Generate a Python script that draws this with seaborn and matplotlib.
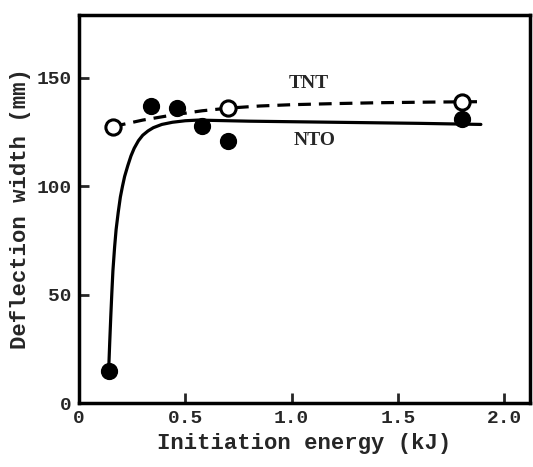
import matplotlib
matplotlib.use("Agg")
import matplotlib.pyplot as plt
import seaborn as sns
import pandas as pd

# Measured points
nto_x = [0.14, 0.34, 0.46, 0.58, 0.70, 1.80]
nto_y = [15, 137, 136, 128, 121, 131]
tnt_x = [0.16, 0.70, 1.80]
tnt_y = [127.5, 136, 139]

# Fitted curves
nto_curve_x = [0.14, 0.145, 0.15, 0.155, 0.16, 0.168, 0.175, 0.185, 0.195, 0.205, 0.215,
               0.23, 0.245, 0.26, 0.28, 0.30, 0.325, 0.35, 0.39, 0.44, 0.50, 0.56,
               0.80, 1.20, 1.60, 1.89]
nto_curve_y = [15, 28, 40, 51, 61, 72, 80, 88, 95, 100, 104.5,
               109.5, 114, 117.5, 121, 123.5, 125.5, 127, 128.5, 129.5, 130.2, 130.5,
               130, 129.5, 129, 128.5]
tnt_curve_x = [0.16, 0.30, 0.45, 0.58, 0.70, 0.85, 1.00, 1.20, 1.40, 1.65, 1.90]
tnt_curve_y = [127.5, 130.5, 133, 134.8, 136, 137, 137.6, 138.1, 138.5, 138.8, 139]

x_ticks = [0, 0.5, 1.0, 1.5, 2.0]
x_tick_labels = ["0", "0.5", "1.0", "1.5", "2.0"]
y_ticks = [0, 50, 100, 150]
y_tick_labels = ["0", "50", "100", "150"]

sns.set_style("ticks")
plt.rcParams["font.family"] = ["Liberation Mono", "DejaVu Sans Mono"]
plt.rcParams["font.weight"] = "bold"

fig = plt.figure(figsize=(5.33, 4.67), dpi=100)
ax = fig.add_axes([0.148, 0.137, 0.846, 0.831])

nto_curve = pd.DataFrame({"x": nto_curve_x, "y": nto_curve_y})
tnt_curve = pd.DataFrame({"x": tnt_curve_x, "y": tnt_curve_y})
sns.lineplot(data=nto_curve, x="x", y="y", ax=ax, color="black", lw=2.3,
             sort=False, estimator=None)
sns.lineplot(data=tnt_curve, x="x", y="y", ax=ax, color="black", lw=2.3,
             sort=False, estimator=None, linestyle=(0, (4, 2.5)))

nto = pd.DataFrame({"x": nto_x, "y": nto_y})
tnt = pd.DataFrame({"x": tnt_x, "y": tnt_y})
sns.scatterplot(data=nto, x="x", y="y", ax=ax, color="black", s=130,
                edgecolor="black", linewidth=1, zorder=5)
sns.scatterplot(data=tnt, x="x", y="y", ax=ax, facecolor="white", s=120,
                edgecolor="black", linewidth=2.2, zorder=6)

ax.text(1.08, 147.5, "TNT", fontfamily="Liberation Serif", fontweight="bold",
        fontsize=14, ha="center", va="center")
ax.text(1.11, 121, "NTO", fontfamily="Liberation Serif", fontweight="bold",
        fontsize=14, ha="center", va="center")

ax.set_xlim(0, 2.12)
ax.set_ylim(0, 179)
ax.set_xticks(x_ticks)
ax.set_xticklabels(x_tick_labels)
ax.set_yticks(y_ticks)
ax.set_yticklabels(y_tick_labels)
ax.tick_params(direction="in", length=7, width=2, labelsize=14, pad=5)
for lab in ax.get_xticklabels() + ax.get_yticklabels():
    lab.set_fontweight("bold")
for sp in ax.spines.values():
    sp.set_visible(True)
    sp.set_linewidth(2.5)
    sp.set_color("black")

ax.set_xlabel("Initiation energy (kJ)", fontsize=16, fontweight="bold", labelpad=4)
ax.set_ylabel("Deflection width (mm)", fontsize=16, fontweight="bold", labelpad=4)

fig.savefig("out.png", dpi=100)
